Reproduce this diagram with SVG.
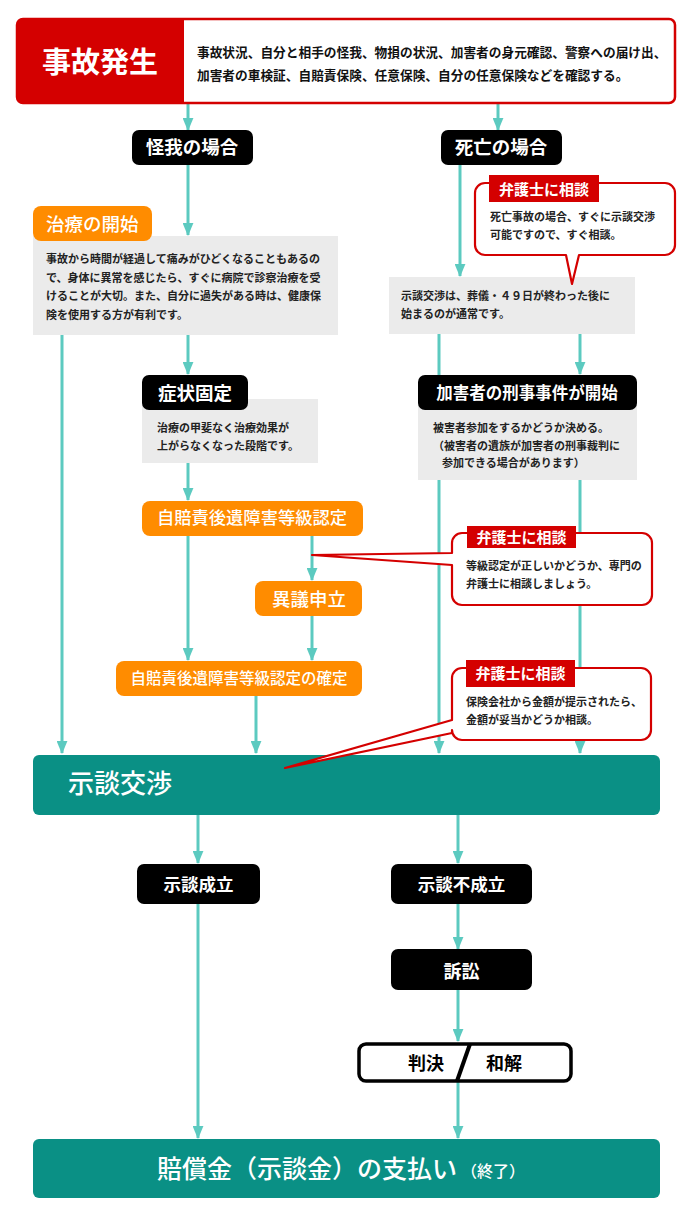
<svg xmlns="http://www.w3.org/2000/svg" width="700" height="1220" viewBox="0 0 700 1220">
<defs>
<marker id="ah" markerUnits="userSpaceOnUse" markerWidth="13" markerHeight="11" viewBox="0 0 12 10" refX="11" refY="5" orient="auto">
<path d="M0,0 L12,5 L0,10 Z" fill="#5ccac0"/>
</marker>
<style>
.t{font-family:"Noto Sans CJK JP","Noto Sans",sans-serif}
.c{stroke:#5ccac0;stroke-width:3;fill:none;marker-end:url(#ah)}
.blk{fill:#000}
.org{fill:#ff8c00}
.gry{fill:#ebebeb}
.teal{fill:#0a9085}
.call{fill:#fff;stroke:#d40000;stroke-width:2.2;stroke-linejoin:round}
.lab{fill:#d40000}
.wt{fill:#fff;font-weight:700}
.wm{fill:#fff;font-weight:500}
.sm{fill:#222;font-size:11px;font-weight:700}
</style>
</defs>
<rect width="700" height="1220" fill="#fff"/>

<g id="connectors">
<line class="c" x1="188" y1="104" x2="188" y2="130"/>
<line class="c" x1="498" y1="104" x2="498" y2="130"/>
<line class="c" x1="188" y1="165" x2="188" y2="235"/>
<line class="c" x1="460" y1="165" x2="460" y2="276"/>
<line class="c" x1="62" y1="335" x2="62" y2="753"/>
<line class="c" x1="188" y1="335" x2="188" y2="374"/>
<line class="c" x1="188" y1="463" x2="188" y2="500"/>
<line class="c" x1="188" y1="536" x2="188" y2="660"/>
<line class="c" x1="312" y1="536" x2="312" y2="580"/>
<line class="c" x1="312" y1="616" x2="312" y2="660"/>
<line class="c" x1="256" y1="696" x2="256" y2="753"/>
<line class="c" x1="439" y1="334" x2="439" y2="753"/>
<line class="c" x1="580" y1="334" x2="580" y2="374"/>
<line class="c" x1="580" y1="480" x2="580" y2="753"/>
<line class="c" x1="198" y1="815" x2="198" y2="863"/>
<line class="c" x1="458" y1="815" x2="458" y2="863"/>
<line class="c" x1="458" y1="904" x2="458" y2="949"/>
<line class="c" x1="458" y1="990" x2="458" y2="1041"/>
<line class="c" x1="458" y1="1082" x2="458" y2="1138"/>
<line class="c" x1="198" y1="904" x2="198" y2="1138"/>
</g>

<g id="accident">
<rect x="17" y="19" width="658" height="84" rx="6" fill="#fff" stroke="#d40000" stroke-width="2.5"/>
<path d="M23,19 H184 V103 H23 A6,6 0 0 1 17,97 V25 A6,6 0 0 1 23,19 Z" fill="#d40000"/>
<text class="t wt" x="100" y="73" font-size="29" text-anchor="middle">事故発生</text>
<text class="t" x="197" y="57" font-size="12.7" font-weight="700" fill="#111">事故状況、自分と相手の怪我、物損の状況、加害者の身元確認、警察への届け出、</text>
<text class="t" x="197" y="80" font-size="12.7" font-weight="700" fill="#111">加害者の車検証、自賠責保険、任意保険、自分の任意保険などを確認する。</text>
</g>

<g id="injury">
<rect class="blk" x="132" y="130" width="121" height="35" rx="7"/>
<text class="t wt" x="192" y="154" font-size="18.5" text-anchor="middle">怪我の場合</text>
</g>
<g id="death">
<rect class="blk" x="441" y="130" width="121" height="35" rx="7"/>
<text class="t wt" x="501" y="154" font-size="18.5" text-anchor="middle">死亡の場合</text>
</g>

<g id="treatment">
<rect class="gry" x="33" y="236" width="305" height="99"/>
<rect class="org" x="33" y="206" width="119" height="35" rx="8"/>
<text class="t wm" x="46" y="231" font-size="18.5">治療の開始</text>
<text class="t sm" x="46" y="263">事故から時間が経過して痛みがひどくなることもあるの</text>
<text class="t sm" x="46" y="281.5">で、身体に異常を感じたら、すぐに病院で診察治療を受</text>
<text class="t sm" x="46" y="300">けることが大切。また、自分に過失がある時は、健康保</text>
<text class="t sm" x="46" y="318.5">険を使用する方が有利です。</text>
</g>

<g id="death-note">
<rect class="gry" x="389" y="277" width="246" height="57"/>
<text class="t sm" x="401" y="300">示談交渉は、葬儀・４９日が終わった後に</text>
<text class="t sm" x="401" y="318">始まるのが通常です。</text>
</g>

<g id="callout-death">
<path class="call" d="M485,183 H665 A10,10 0 0 1 675,193 V245 A10,10 0 0 1 665,255 H579 L572,284 L566,255 H485 A10,10 0 0 1 475,245 V193 A10,10 0 0 1 485,183 Z"/>
<rect class="lab" x="489" y="175" width="110" height="27"/>
<text class="t wt" x="544" y="194.5" font-size="15" text-anchor="middle">弁護士に相談</text>
<text class="t sm" x="490" y="221">死亡事故の場合、すぐに示談交渉</text>
<text class="t sm" x="490" y="239">可能ですので、すぐ相談。</text>
</g>

<g id="symptom">
<rect class="gry" x="142" y="399" width="176" height="64"/>
<rect class="blk" x="142" y="375" width="106" height="35" rx="7"/>
<text class="t wt" x="195" y="400" font-size="18.5" text-anchor="middle">症状固定</text>
<text class="t sm" x="157" y="432">治療の甲斐なく治療効果が</text>
<text class="t sm" x="157" y="450">上がらなくなった段階です。</text>
</g>

<g id="criminal">
<rect class="gry" x="418" y="400" width="219" height="80"/>
<rect class="blk" x="418" y="375" width="219" height="35" rx="7"/>
<text class="t wt" x="527" y="399" font-size="16.5" text-anchor="middle">加害者の刑事事件が開始</text>
<text class="t sm" x="433" y="432">被害者参加をするかどうか決める。</text>
<text class="t sm" x="433" y="449.5">（被害者の遺族が加害者の刑事裁判に</text>
<text class="t sm" x="442" y="467">参加できる場合があります）</text>
</g>

<g id="grade">
<rect class="org" x="142" y="501" width="221" height="35" rx="8"/>
<text class="t wm" x="252" y="524" font-size="17.3" text-anchor="middle">自賠責後遺障害等級認定</text>
</g>

<g id="objection">
<rect class="org" x="255" y="581" width="107" height="35" rx="8"/>
<text class="t wm" x="309" y="605.5" font-size="18.5" text-anchor="middle">異議申立</text>
</g>

<g id="grade-final">
<rect class="org" x="116" y="661" width="246" height="35" rx="8"/>
<text class="t wm" x="239" y="684" font-size="15.5" text-anchor="middle">自賠責後遺障害等級認定の確定</text>
</g>

<g id="negotiation">
<rect class="teal" x="33" y="755" width="627" height="60" rx="6"/>
<text class="t wm" x="68" y="793" font-size="26">示談交渉</text>
</g>

<g id="callout-grade">
<path class="call" d="M462,533 H642 A10,10 0 0 1 652,543 V595 A10,10 0 0 1 642,605 H462 A10,10 0 0 1 452,595 V565 L312,555 L452,553 V543 A10,10 0 0 1 462,533 Z"/>
<rect class="lab" x="467" y="526" width="109" height="22"/>
<text class="t wt" x="521.5" y="543" font-size="15" text-anchor="middle">弁護士に相談</text>
<text class="t sm" x="466" y="570">等級認定が正しいかどうか、専門の</text>
<text class="t sm" x="466" y="588">弁護士に相談しましょう。</text>
</g>

<g id="callout-amount">
<path class="call" d="M462,668 H641 A10,10 0 0 1 651,678 V730 A10,10 0 0 1 641,740 H462 A10,10 0 0 1 452,730 V733 L285,768 L452,720 V678 A10,10 0 0 1 462,668 Z"/>
<rect class="lab" x="466" y="660" width="109" height="27"/>
<text class="t wt" x="520.5" y="679" font-size="15" text-anchor="middle">弁護士に相談</text>
<text class="t sm" x="466" y="706">保険会社から金額が提示されたら、</text>
<text class="t sm" x="466" y="724">金額が妥当かどうか相談。</text>
</g>

<g id="settled">
<rect class="blk" x="137" y="864" width="123" height="40" rx="7"/>
<text class="t wt" x="198.5" y="891" font-size="17.5" text-anchor="middle">示談成立</text>
</g>
<g id="unsettled">
<rect class="blk" x="391" y="864" width="141" height="40" rx="7"/>
<text class="t wt" x="461.5" y="891" font-size="17.5" text-anchor="middle">示談不成立</text>
</g>
<g id="lawsuit">
<rect class="blk" x="391" y="949" width="141" height="41" rx="7"/>
<text class="t wt" x="461.5" y="978" font-size="18" text-anchor="middle">訴訟</text>
</g>
<g id="judgment">
<rect x="359" y="1044" width="212" height="37" rx="7" fill="#fff" stroke="#000" stroke-width="3.5"/>
<line x1="470" y1="1044" x2="457" y2="1081" stroke="#000" stroke-width="4"/>
<text class="t" x="426" y="1069.5" font-size="18" font-weight="700" fill="#000" text-anchor="middle">判決</text>
<text class="t" x="504" y="1069.5" font-size="18" font-weight="700" fill="#000" text-anchor="middle">和解</text>
</g>

<g id="payment">
<rect class="teal" x="33" y="1139" width="627" height="59" rx="6"/>
<text class="t wm" x="157" y="1178" font-size="25">賠償金（示談金）の支払い</text>
<text class="t wm" x="461" y="1177" font-size="16">（終了）</text>
</g>
</svg>
